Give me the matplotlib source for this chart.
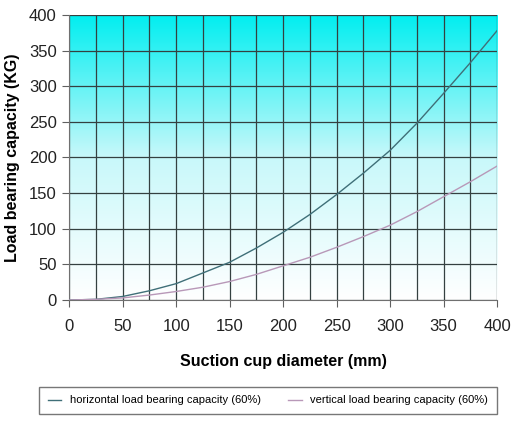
import matplotlib.pyplot as plt
import numpy as np
from matplotlib.colors import LinearSegmentedColormap

plt.rcParams["font.family"] = ["Liberation Sans", "DejaVu Sans"]

diameter = [0, 25, 50, 75, 100, 125, 150, 175, 200, 225, 250, 275, 300, 325, 350, 375, 400]
horizontal = [0, 1, 5, 13, 23, 38, 53, 73, 95, 120, 148, 178, 210, 248, 290, 333, 378]
vertical = [0, 1, 3, 7, 12, 18, 26, 36, 48, 60, 74, 89, 105, 124, 145, 166, 188]

xticks = [0, 50, 100, 150, 200, 250, 300, 350, 400]
yticks = [0, 50, 100, 150, 200, 250, 300, 350, 400]

fig = plt.figure(figsize=(5.12, 4.25), dpi=100)
ax = fig.add_axes([0.135, 0.294, 0.836, 0.671])

# background gradient, cyan at top to white at bottom
cmap = LinearSegmentedColormap.from_list("bg", ["#ffffff", "#c8f8fa", "#00eef0"])
grad = np.linspace(0, 1, 256).reshape(-1, 1)
ax.imshow(grad, extent=[0, 400, 0, 400], origin="lower", aspect="auto", cmap=cmap, zorder=0)

ax.set_xticks(np.arange(0, 401, 25), minor=True)
ax.set_xticks(xticks)
ax.set_yticks(yticks)
ax.grid(True, which="both", color="#344040", linewidth=0.9, zorder=1)
ax.tick_params(which="minor", length=0)
ax.tick_params(which="major", length=5, color="#606060", labelsize=12, labelcolor="#222222")
ax.tick_params(axis="x", pad=9)
ax.tick_params(axis="y", pad=4)

ax.plot(diameter, horizontal, color="#3f6f78", linewidth=1.0, zorder=3,
        label="horizontal load bearing capacity (60%)")
ax.plot(diameter, vertical, color="#b898b8", linewidth=1.0, zorder=3,
        label="vertical load bearing capacity (60%)")

ax.set_xlim(0, 400)
ax.set_ylim(0, 400)
for s in ["top", "right"]:
    ax.spines[s].set_visible(False)
for s in ["left", "bottom"]:
    ax.spines[s].set_color("#707070")

ax.set_xlabel("Suction cup diameter (mm)", fontsize=11.5, fontweight="bold", labelpad=14)
ax.set_ylabel("Load bearing capacity (KG)", fontsize=11.5, fontweight="bold", labelpad=6)

fig.legend(loc="lower left", bbox_to_anchor=(0.065, 0.012, 0.917, 0.07), mode="expand",
           ncol=2, fontsize=8, frameon=True, fancybox=False, edgecolor="#555555",
           handlelength=1.2, borderpad=0.8)

fig.savefig("out.png", dpi=100)
